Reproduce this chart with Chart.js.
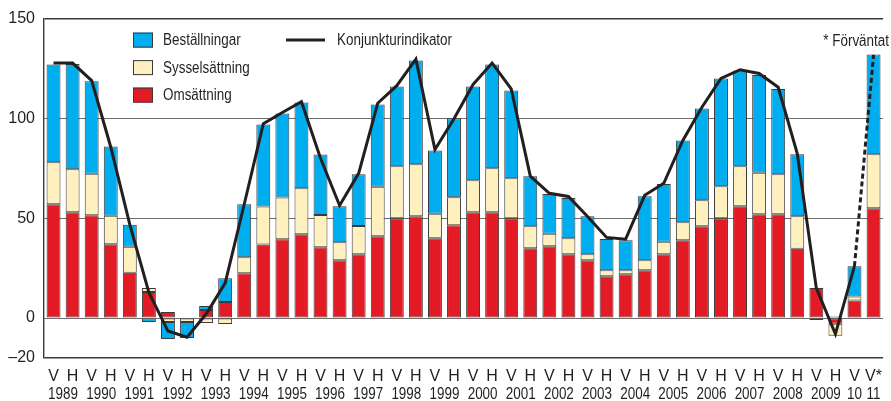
<!DOCTYPE html>
<html lang="sv">
<head>
<meta charset="utf-8">
<title>Konjunkturindikator</title>
<script src="https://cdn.jsdelivr.net/npm/chart.js@4.4.1/dist/chart.umd.min.js"></script>
<style>
  html, body { margin: 0; padding: 0; background: #fff; }
  #wrap { position: relative; width: 891px; height: 401px; }
</style>
</head>
<body>
<div id="wrap"><canvas id="chart"></canvas></div>
<script>
// Half-year periods: V = vår, H = höst. Last one is a forecast (*)
const periods = [
  'V','H', 'V','H', 'V','H', 'V','H', 'V','H', 'V','H', 'V','H',
  'V','H', 'V','H', 'V','H', 'V','H', 'V','H', 'V','H', 'V','H',
  'V','H', 'V','H', 'V','H', 'V','H', 'V','H', 'V','H', 'V','H',
  'V', 'V*'
];
const years = ['1989','1990','1991','1992','1993','1994','1995','1996','1997','1998','1999',
  '2000','2001','2002','2003','2004','2005','2006','2007','2008','2009','10','11'];

//                   1989      1990       1991      1992     1993    1994        1995      1996
const omsattning = [57, 53,   51.5, 37,  22.7, 13,  3, 0,   4, 8,   22.4, 36.8, 39.5, 42, 35.5, 29,
//                   1997     1998     1999        2000    2001    2002    2003    2004
                    32, 41,  50, 51,  40, 46.5,  53, 53,  50, 35,  36, 32,  29, 21,  22, 24,
//                   2005    2006    2007    2008       2009       10   11
                    32, 39,  46, 50,  56, 52,  52, 34.7,  15, -2.8,  8.8, 55];

const sysselsattning = [21, 21.5,  20.8, 14.3,  13, 2,  -2, -2,  -2.5, -3,  8.1, 19.1,  20.9, 23,  16.1, 9,
                        14.1, 24.8,  26, 26,  12.3, 14,  16, 22,  20, 11,  6.2, 8,  3, 3,  2, 5,
                        6.2, 9,  13, 16,  20, 20.8,  20, 16.3,  -1, -6,  2, 27];

const bestallningar = [49, 52.7,  46.3, 34.6,  11.1, -2,  -8.5, -8,  2, 12,  26.5, 41.1,  42.1, 43,  30.3, 18,
                       25.9, 41.2,  40, 52,  31.6, 39.6,  47, 52,  44, 25,  20, 20.2,  19, 15.6,  15, 32,
                       29, 41,  46, 54,  48, 49,  42.8, 31,  0, 0.8,  15.2, 50];

const konjunktur = [127.7, 127.7,  118.9, 85.7,  46.8, 12.8,  -6.5, -9.6,  2, 17.5,  57, 97.3,  103, 108.4,  80, 56.4,
                    72.5, 107.6,  116.4, 129.7,  84.4, 99.8,  117, 127.7,  114.8, 71.1,  62.5, 60.9,  50.9, 40.4,  39.5, 61.5,
                    67.5, 89,  105.6, 120,  124.4, 122.5,  115.6, 82.4,  15, -8,  26, 131.8];

const yTicks = [-20, 0, 50, 100, 150];

const FONT = "'Liberation Sans', Arial, sans-serif";
const BLUE = '#00adee', CREAM = '#fff0bf', RED = '#e31b24', INK = '#231f20', EDGE = '#3a3a3a';
const NARROW = 0.84; // the original uses a condensed face

Chart.defaults.font.family = FONT;
Chart.defaults.color = '#231f20';

// draw text squeezed horizontally
function narrowText(ctx, text, x, y, align) {
  ctx.save();
  ctx.translate(x, y);
  ctx.scale(NARROW, 1);
  ctx.textAlign = align;
  ctx.fillText(text, 0, 0);
  ctx.restore();
}

// Year row under the V/H labels, centred under each pair of bars
const yearRow = {
  id: 'yearRow',
  afterDraw(chart) {
    const x = chart.scales.x, ctx = chart.ctx;
    ctx.save();
    ctx.font = '16px ' + FONT;
    ctx.fillStyle = '#231f20';
    ctx.textBaseline = 'middle';
    years.forEach((y, i) => {
      let px;
      if (i < 21) px = (x.getPixelForValue(2 * i) + x.getPixelForValue(2 * i + 1)) / 2;
      else px = x.getPixelForValue(42 + (i - 21));
      narrowText(ctx, y, px, chart.chartArea.bottom + 37, 'center');
    });
    ctx.restore();
  }
};

// Legend in two columns plus the forecast note
const legendBoxes = {
  id: 'legendBoxes',
  afterDraw(chart) {
    const ctx = chart.ctx, a = chart.chartArea;
    const items = [['Beställningar', BLUE], ['Sysselsättning', CREAM], ['Omsättning', RED]];
    ctx.save();
    ctx.font = '16px ' + FONT;
    ctx.textBaseline = 'middle';
    items.forEach((it, i) => {
      const top = a.top + 14 + i * 27.5;
      ctx.fillStyle = it[1];
      ctx.fillRect(a.left + 89, top, 20, 15);
      ctx.strokeStyle = EDGE;
      ctx.lineWidth = 1;
      ctx.strokeRect(a.left + 89.5, top + 0.5, 19, 14);
      ctx.fillStyle = '#231f20';
      narrowText(ctx, it[0], a.left + 119, top + 8, 'left');
    });
    ctx.strokeStyle = INK;
    ctx.lineWidth = 3;
    ctx.beginPath();
    ctx.moveTo(a.left + 242, a.top + 21.5);
    ctx.lineTo(a.left + 281, a.top + 21.5);
    ctx.stroke();
    narrowText(ctx, 'Konjunkturindikator', a.left + 293, a.top + 22, 'left');
    narrowText(ctx, '* Förväntat', 889, a.top + 23, 'right');
    ctx.restore();
  }
};

const barSet = (label, data, color) => ({
  type: 'bar', label, data, backgroundColor: color,
  borderColor: EDGE, borderWidth: 1, borderSkipped: false,
  stack: 'bars', order: 1,
  barPercentage: 0.73, categoryPercentage: 1
});

new Chart(document.getElementById('chart'), {
  data: {
    labels: periods,
    datasets: [
      { type: 'line', label: 'Konjunkturindikator', data: konjunktur,
        borderColor: INK, borderWidth: 3, pointRadius: 0, tension: 0,
        stack: 'line', order: 0,
        segment: { borderDash: c => c.p1DataIndex === konjunktur.length - 1 ? [5, 3] : undefined } },
      barSet('Omsättning', omsattning, RED),
      barSet('Sysselsättning', sysselsattning, CREAM),
      barSet('Beställningar', bestallningar, BLUE)
    ]
  },
  options: {
    responsive: true, maintainAspectRatio: false, animation: false,
    layout: { padding: { top: 17, right: 0, left: 0, bottom: 0 } },
    plugins: { legend: { display: false }, tooltip: { enabled: false } },
    scales: {
      x: {
        stacked: true, offset: true,
        grid: { display: false, drawTicks: false },
        border: { display: false },
        ticks: { font: { size: 16 }, padding: 9, maxRotation: 0, autoSkip: false },
        afterFit: s => { s.height = 43; }
      },
      y: {
        stacked: true, min: -20, max: 150,
        afterBuildTicks: s => { s.ticks = yTicks.map(v => ({ value: v })); },
        grid: {
          drawTicks: false,
          color: c => (c.tick.value === 150 || c.tick.value === -20) ? '#3a3a3a' : '#6d6d6d',
          lineWidth: c => (c.tick.value === 150 || c.tick.value === -20) ? 1.4 : 1
        },
        border: { display: true, color: '#3a3a3a', width: 1.4 },
        ticks: { font: { size: 16 }, padding: 9, callback: v => v < 0 ? '\u2013' + Math.abs(v) : v },
        afterFit: s => { s.width = 44; }
      }
    }
  },
  plugins: [yearRow, legendBoxes]
});
</script>
</body>
</html>
